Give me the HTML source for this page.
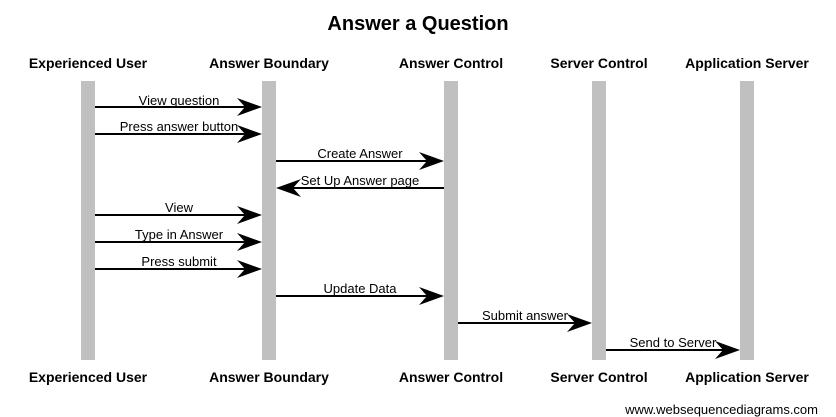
<!DOCTYPE html>
<html><head><meta charset="utf-8"><style>
html,body{margin:0;padding:0;background:#fff;}
svg{display:block;font-family:"Liberation Sans",Arial,sans-serif;}
</style></head><body>
<svg width="836" height="417" viewBox="0 0 836 417" xmlns="http://www.w3.org/2000/svg">
<defs>
<path id="ar" d="M0,0 L-25,-9 L-17,0 L-25,9 Z" fill="#000"/>
<path id="al" d="M0,0 L25,-9 L17,0 L25,9 Z" fill="#000"/>
</defs>
<text x="418" y="30" font-size="20" font-weight="bold" text-anchor="middle">Answer a Question</text>
<g font-size="14" font-weight="bold" text-anchor="middle">
<text x="88" y="68">Experienced User</text>
<text x="269" y="68">Answer Boundary</text>
<text x="451" y="68">Answer Control</text>
<text x="599" y="68">Server Control</text>
<text x="747" y="68">Application Server</text>
<text x="88" y="382">Experienced User</text>
<text x="269" y="382">Answer Boundary</text>
<text x="451" y="382">Answer Control</text>
<text x="599" y="382">Server Control</text>
<text x="747" y="382">Application Server</text>
</g>
<g fill="#c0c0c0">
<rect x="81" y="81" width="14" height="279"/>
<rect x="262" y="81" width="14" height="279"/>
<rect x="444" y="81" width="14" height="279"/>
<rect x="592" y="81" width="14" height="279"/>
<rect x="740" y="81" width="14" height="279"/>
</g>
<g stroke="#000" stroke-width="2">
<line x1="95" y1="107" x2="248" y2="107"/>
<line x1="95" y1="134" x2="248" y2="134"/>
<line x1="276" y1="161" x2="430" y2="161"/>
<line x1="290" y1="188" x2="444" y2="188"/>
<line x1="95" y1="215" x2="248" y2="215"/>
<line x1="95" y1="242" x2="248" y2="242"/>
<line x1="95" y1="269" x2="248" y2="269"/>
<line x1="276" y1="296" x2="430" y2="296"/>
<line x1="458" y1="323" x2="578" y2="323"/>
<line x1="606" y1="350" x2="726" y2="350"/>
</g>
<use href="#ar" x="262" y="107"/>
<use href="#ar" x="262" y="134"/>
<use href="#ar" x="444" y="161"/>
<use href="#al" x="276" y="188"/>
<use href="#ar" x="262" y="215"/>
<use href="#ar" x="262" y="242"/>
<use href="#ar" x="262" y="269"/>
<use href="#ar" x="444" y="296"/>
<use href="#ar" x="592" y="323"/>
<use href="#ar" x="740" y="350"/>
<g font-size="13" text-anchor="middle">
<text x="179" y="105">View question</text>
<text x="179" y="131">Press answer button</text>
<text x="360" y="158">Create Answer</text>
<text x="360" y="185">Set Up Answer page</text>
<text x="179" y="212">View</text>
<text x="179" y="239">Type in Answer</text>
<text x="179" y="266">Press submit</text>
<text x="360" y="293">Update Data</text>
<text x="525" y="320">Submit answer</text>
<text x="673" y="347">Send to Server</text>
</g>
<text x="818" y="414" font-size="13" text-anchor="end">www.websequencediagrams.com</text>
</svg>
</body></html>
